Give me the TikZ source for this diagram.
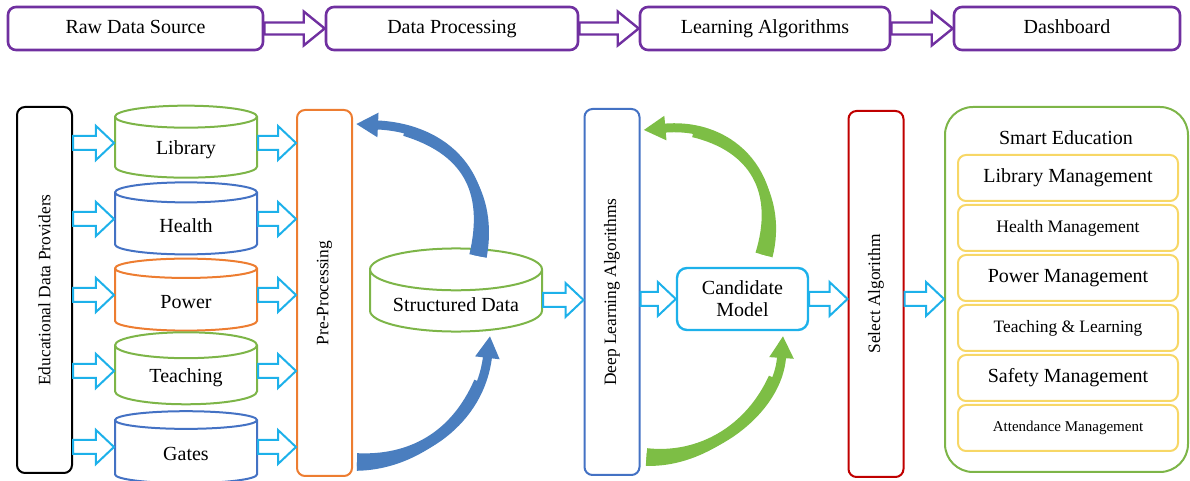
\documentclass[tikz,border=0pt]{standalone}
\usepackage{fontspec}
\setmainfont{Liberation Serif}
\usepackage{graphicx}
\usetikzlibrary{arrows.meta,calc,shapes.geometric}
\definecolor{stagepurple}{HTML}{7030A0}
\definecolor{flowcyan}{HTML}{1DB1EA}
\definecolor{dgreen}{HTML}{7DB548}
\definecolor{dblue}{HTML}{4472C4}
\definecolor{dorange}{HTML}{ED7D31}
\definecolor{dred}{HTML}{C00000}
\definecolor{dyellow}{HTML}{F7D766}
\definecolor{loopblue}{HTML}{4A7EBF}
\definecolor{loopgreen}{HTML}{7DBE45}
\newcommand{\fsz}[1]{\fontsize{#1pt}{#1pt}\selectfont}
\newcommand{\blockarrow}[6]{%
  % style, tail, tip, shaft half-width, head half-width, head length.
  \draw[#1] let \p1=(#2), \p2=(#3) in
    (\x1,\y1+#4) -- (\x2-#6,\y1+#4) -- (\x2-#6,\y1+#5) -- (\x2,\y1)
    -- (\x2-#6,\y1-#5) -- (\x2-#6,\y1-#4) -- (\x1,\y1-#4) -- cycle;
}
\newcommand{\feedback}[5]{%
  % colour, tail, first control, second control, tip.
  \path #2 coordinate (fb0) #3 coordinate (fb1) #4 coordinate (fb2) #5 coordinate (fb3);
  \draw[loopback=#1] (fb0) .. controls (fb1) and (fb2) .. (fb3);
  % first 80% of the curve (de Casteljau), widened towards the tail
  \path ($(fb0)!.8!(fb1)$) coordinate (fbA) ($(fb1)!.8!(fb2)$) coordinate (fbB)
    ($(fb2)!.8!(fb3)$) coordinate (fbC);
  \path ($(fbA)!.8!(fbB)$) coordinate (fbD) ($(fbB)!.8!(fbC)$) coordinate (fbE);
  \path ($(fbD)!.8!(fbE)$) coordinate (fbF);
  \fill[#1] ($(fb0)!4.4pt!90:(fbA)$) .. controls ($(fbA)!3.6pt!-90:(fb0)$)
      and ($(fbD)!2.8pt!90:(fbF)$) .. ($(fbF)!2.25pt!-90:(fbD)$)
    -- ($(fbF)!2.25pt!90:(fbD)$) .. controls ($(fbD)!2.8pt!-90:(fbF)$)
      and ($(fbA)!3.6pt!90:(fb0)$) .. ($(fb0)!4.4pt!-90:(fbA)$) -- cycle;
}
\tikzset{
  stage/.style={draw=stagepurple, line width=1.3pt, rounded corners=4pt,
    minimum width=#1, minimum height=21.5pt, font=\fsz{10},
    text height=7pt, text depth=2pt},
  pillar/.style={draw=#1, line width=1pt, rounded corners=4pt,
    minimum width=27.5pt, minimum height=183pt, font=\fsz{8.7}},
  store/.style={cylinder, shape border rotate=90, aspect=0.3, draw=#1,
    line width=1pt, minimum width=71pt, minimum height=36pt, font=\fsz{10}},
  service/.style={draw=dyellow, line width=1pt, rounded corners=4pt,
    minimum width=110pt, minimum height=23pt},
  flow/.style={draw=flowcyan, line width=1pt, fill=white},
  stageflow/.style={draw=stagepurple, line width=1.2pt, fill=white},
  loopback/.style={draw=#1, line width=4.5pt, -{Triangle[length=11pt,width=11.5pt]}},
}

\begin{document}
\begin{tikzpicture}[x=0.5pt,y=0.5pt]
  \useasboundingbox (0,0) rectangle (1190,481);

  % pipeline stages
  \node[stage=127.5pt] (raw) at (135.5,452.5) {Raw Data Source};
  \node[stage=126pt] (proc) at (452,452.5) {Data Processing};
  \node[stage=125pt] (learn) at (765,452.5) {Learning Algorithms};
  \node[stage=113pt] (dash) at (1067,452.5) {Dashboard};
  \blockarrow{stageflow}{raw.east}{proc.west}{3pt}{8.5pt}{10.5pt}
  \blockarrow{stageflow}{proc.east}{learn.west}{3pt}{8.5pt}{10.5pt}
  \blockarrow{stageflow}{learn.east}{dash.west}{3pt}{8.5pt}{10.5pt}

  % providers and pre-processing
  \node[pillar=black] (edp) at (44.5,191) {\rotatebox{90}{Educational Data Providers}};
  \node[pillar=dorange] (pre) at (324.5,188) {\rotatebox{90}{Pre-Processing}};
  \foreach \id/\txt/\col [count=\i from 0] in {lib/Library/dgreen, hlth/Health/dblue,
      pwr/Power/dorange, tchg/Teaching/dgreen, gate/Gates/dblue}{
    \node[store=\col] (\id) at (186,{331-\i*76}) {\txt};
    \coordinate (\id-mid) at ($(\id.center)+(0,7)$);
    \blockarrow{flow}{edp.east |- \id-mid}{\id.west}{3.5pt}{8.5pt}{9pt}
    \blockarrow{flow}{\id.east |- \id-mid}{pre.west}{3.5pt}{8.5pt}{9pt}
  }

  % structured data and models
  \node[store=dgreen, minimum width=86pt] (sd) at (456,176) {Structured Data};
  \coordinate (sd-mid) at ($(sd.center)+(0,5)$);
  \node[pillar=dblue] (dl) at (612,189) {\rotatebox{90}{Deep Learning Algorithms}};
  \node[draw=flowcyan, line width=1.2pt, rounded corners=5pt, minimum width=65.5pt,
    minimum height=31pt, align=center, font=\fontsize{10}{11}\selectfont]
    (cm) at (742.5,182) {Candidate\\Model};
  \node[pillar=dred] (sel) at (876,187) {\rotatebox{90}{Select Algorithm}};

  % smart education services
  \node[draw=dgreen, line width=1pt, rounded corners=14pt, minimum width=121.5pt,
    minimum height=182.5pt] (smart) at (1066.5,191.5) {};
  \node[font=\fsz{10}] (smarttitle) at (1066,343) {Smart Education};
  \foreach \txt/\size [count=\i from 0] in {Library Management/10, Health Management/8.8,
      Power Management/10, Teaching \& Learning/8.7, Safety Management/10,
      Attendance Management/7.5}{
    \node[service, font=\fsz{\size}] (svc\i) at (1068,{303-\i*50}) {\txt};
  }

  \blockarrow{flow}{sd-mid -| sd.east}{dl.west}{3.5pt}{8.5pt}{9pt}
  \blockarrow{flow}{dl.east |- cm}{cm.west}{3.5pt}{8.5pt}{9pt}
  \blockarrow{flow}{cm.east}{sel.west}{3.5pt}{8.5pt}{9pt}
  \blockarrow{flow}{sel.east |- cm}{smart.west}{3.5pt}{8.5pt}{9pt}

  % feedback loops
  \feedback{loopblue}{($(sd.center)+(22,49)$)}{($(sd.center)+(39,130)$)}
    {($(sd.center)+(-11,177)$)}{($(pre.north east)+(3,-15)$)}
  \feedback{loopblue}{($(pre.south east)+(4,15)$)}{($(pre.south east)+(68,14)$)}
    {($(sd.center)+(24,-115)$)}{($(sd.center)+(34,-31)$)}
  \feedback{loopgreen}{($(cm.center)+(21.5,44)$)}{($(cm.center)+(42.5,119)$)}
    {($(cm.center)+(-7.5,177)$)}{($(dl.north east)+(3,-22)$)}
  \feedback{loopgreen}{($(dl.south east)+(6,19)$)}{($(dl.south east)+(70,14)$)}
    {($(cm.center)+(35.5,-111)$)}{($(cm.center)+(40.5,-37)$)}
\end{tikzpicture}
\end{document}
